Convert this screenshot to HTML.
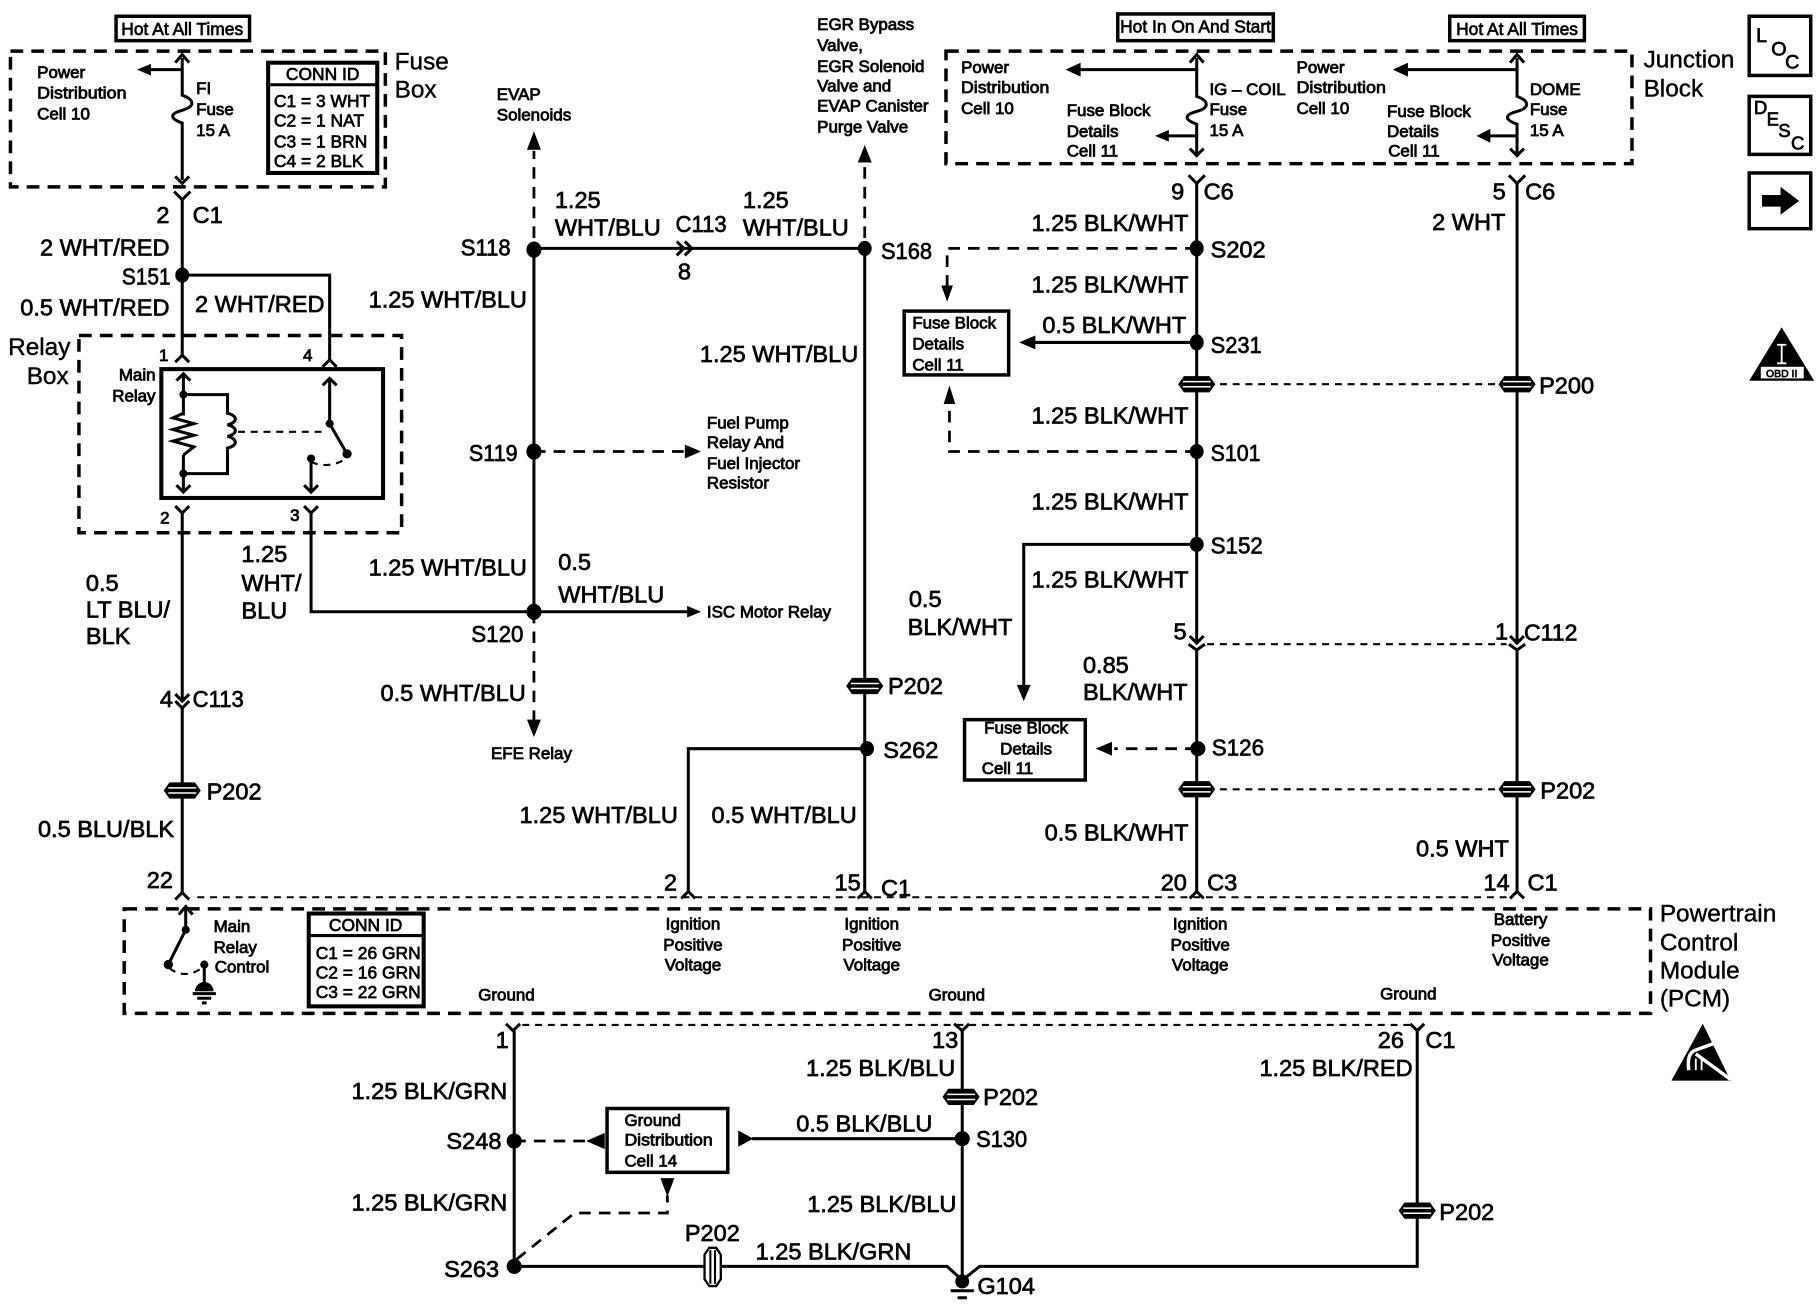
<!DOCTYPE html>
<html><head><meta charset="utf-8"><style>
html,body{margin:0;padding:0;background:#fff}
svg{display:block}
text{font-family:"Liberation Sans",sans-serif;fill:#000;stroke:#000}
.L text{font-size:20.3px;stroke-width:.6px}
.T text{font-size:21px;stroke-width:.35px}
.S text{font-size:14.6px;stroke-width:.7px}
.H text{font-size:15px;stroke-width:.6px}
.r{text-anchor:end}.c{text-anchor:middle}
.w{fill:none;stroke:#000;stroke-width:2.6}
.b{fill:none;stroke:#000;stroke-width:3}
.d{fill:none;stroke:#000;stroke-width:3;stroke-dasharray:11 7}
.e{fill:none;stroke:#000;stroke-width:2.4;stroke-dasharray:10 7}
.t{fill:none;stroke:#000;stroke-width:1.8;stroke-dasharray:6 5}
.k{fill:#000;stroke:none}
</style></head><body>
<svg xmlns="http://www.w3.org/2000/svg" width="1820" height="1312" viewBox="0 0 1568 1130.3">
<defs>
<g id="p"><path d="M-16 0L-11 -7H11L16 0L11 7H-11Z" fill="#000"/><path d="M-12 -2.2H12M-12 2.2H12" stroke="#fff" stroke-width="1.3"/></g>
</defs>

<!-- boxes -->
<rect class="b" x="100" y="14" width="115" height="21"/>
<rect class="b" x="963" y="12" width="134" height="23"/>
<rect class="b" x="1249" y="14" width="116" height="21"/>
<rect class="d" x="9" y="44" width="323" height="117"/>
<rect class="d" x="815" y="44" width="591" height="97"/>
<rect class="d" x="68" y="289" width="278" height="170"/>
<rect class="d" x="107" y="783" width="1315" height="90"/>
<rect x="139" y="318" width="191" height="111" fill="none" stroke="#000" stroke-width="3.5"/>
<rect x="231" y="54" width="94" height="95" fill="none" stroke="#000" stroke-width="3.5"/><path class="w" d="M231 73H325"/>
<rect x="266" y="787" width="99" height="80" fill="none" stroke="#000" stroke-width="3.5"/><path class="w" d="M266 806H365"/>
<rect class="b" x="779" y="268" width="90" height="55"/>
<rect class="b" x="831" y="620" width="104" height="52"/>
<rect class="b" x="523" y="955" width="104" height="55"/>
<rect class="b" x="1507" y="14" width="53" height="51"/>
<rect class="b" x="1507" y="83" width="53" height="50"/>
<rect class="b" x="1507" y="149" width="53" height="48"/>

<!-- main wires -->
<path class="w" d="M157 172V237M157 237H284V310M157 237V306M157 442V604M157 610V769M268 442V527H460M460 215V527M460 214H745M745 214V768M745 645H593V768M1031 158V554M1031 560V768M1031 295H886M1031 469H882V592M1307 158V554M1307 560V768"/>
<path class="w" d="M443 888V1091H816L829 1103L844 1091H1221V888M829 888V1103M829 981H648"/>
<path class="e" d="M460 205V130M745 205V130M460 389H592M460 527V625M1031 214H816V250M1031 389H818V350M1031 645H960M443 983H510M445 1085L495 1045H575V1030"/>
<path class="w" d="M460 527H594"/>
<path class="t" d="M1040 555H1298M1040 331H1292M1040 680H1292M170 773H1300M450 883H1215"/>

<!-- fuse-box internals -->
<path class="w" d="M157 50V82C168 86 168 92 157 95C146 98 146 102 157 106V155M157 60H126M1031 50V83C1042 87 1042 93 1031 96C1020 99 1020 103 1031 107V133M1031 60H930M1031 117H1005M1307 50V83C1318 87 1318 93 1307 96C1296 99 1296 103 1307 107V133M1307 60H1212M1307 117H1282"/>
<path class="w" d="M151 54L157 47L163 54M151 152L157 158L163 152M1025 54L1031 47L1037 54M1025 128L1031 134L1037 128M1301 54L1307 47L1313 54M1301 128L1307 134L1313 128"/>
<path class="k" d="M118 60L130 55V65ZM918 60L931 54V66ZM995 117L1007 112V122ZM1200 60L1213 54V66ZM1272 117L1284 111V123Z"/>

<!-- forks -->
<path class="w" d="M150 165L157 172L164 165M1024 151L1031 158L1038 151M1300 151L1307 158L1314 151M151 312L157 306L163 312M278 316L284 310L290 316M151 436L157 442L163 436M262 436L268 442L274 436M151 598L157 604L163 598M151 604L157 610L163 604M151 775L157 769L163 775M587 774L593 768L599 774M739 774L745 768L751 774M1025 774L1031 768L1037 774M1301 774L1307 768L1313 774M436 882L442 888L448 882M822 882L829 888L835 882M1215 882L1221 888L1227 882M1025 548L1031 554L1037 548M1024 555L1031 560L1038 555M1301 548L1307 554L1313 548M1300 555L1307 560L1314 555M583 208L589 214L583 220M590 208L596 214L590 220"/>

<!-- splice dots -->
<g class="k">
<ellipse cx="157" cy="237" rx="6" ry="6.5"/><ellipse cx="460" cy="215" rx="6.5" ry="7"/><ellipse cx="460" cy="389" rx="6.5" ry="7"/><ellipse cx="460" cy="527" rx="6.5" ry="7"/>
<ellipse cx="745" cy="214" rx="6" ry="6.5"/><ellipse cx="747" cy="645" rx="6" ry="6.5"/><ellipse cx="1031" cy="214" rx="6" ry="7"/><ellipse cx="1031" cy="295" rx="6" ry="7"/><ellipse cx="1031" cy="389" rx="6" ry="6.5"/><ellipse cx="1031" cy="469" rx="6" ry="6.5"/><ellipse cx="1032" cy="645" rx="6.5" ry="6.5"/>
<ellipse cx="443" cy="983" rx="6.5" ry="6.5"/><ellipse cx="443" cy="1091" rx="6.5" ry="6.5"/><ellipse cx="829" cy="981" rx="6.5" ry="6.5"/>
</g>

<!-- arrowheads -->
<path class="k" d="M460 113L466 129H454ZM745 125L751 140H739ZM604 389L590 383V395ZM604 527L592 522V532ZM460 635L454 620H466ZM816 260L811 246H821ZM818 332L813 348H823ZM878 295L892 289V301ZM882 604L876 590H888ZM944 645L958 639V651ZM505 983L521 976V990ZM636 974V988L649 981ZM575 1031L569 1015H581Z"/>

<!-- P connectors -->
<use href="#p" x="157" y="681"/><use href="#p" x="745" y="591"/><use href="#p" x="1031" y="331"/><use href="#p" x="1307" y="331"/><use href="#p" x="1031" y="680"/><use href="#p" x="1307" y="680"/><use href="#p" x="828" y="945"/><use href="#p" x="1221" y="1043"/>
<path d="M607 1081L611 1075H617L621 1081V1102L617 1108H611L607 1102Z" fill="#fff" stroke="#000" stroke-width="2"/><path d="M612 1077V1106M616 1077V1106" stroke="#000" stroke-width="1.8"/>

<!-- relay internals -->
<path class="w" d="M158 322V424M158 340H196V356C205 358 205 364 196 366C205 368 205 374 196 376C205 378 205 384 196 386V408H158M284 326V365L299 391M268 395V424"/>
<path fill="#fff" d="M149 358h18v34h-18z"/>
<path class="w" d="M158 356L149 360L167 365L149 370L167 375L149 380L167 385L158 392"/>
<path class="w" d="M152 328L158 322L164 328M152 418L158 424L164 418M278 332L284 326L290 332M262 418L268 424L274 418"/>
<path class="t" d="M205 372H282M268 398C276 402 290 402 299 394"/>
<g class="k"><circle cx="158" cy="340" r="3.5"/><circle cx="158" cy="408" r="3.5"/><circle cx="284" cy="365" r="3.5"/><circle cx="299" cy="391" r="4"/><circle cx="268" cy="395" r="3.5"/></g>

<!-- PCM switch -->
<path class="w" d="M160 782V801L145 831M176 831V850M154 788L160 781L166 788"/>
<path class="t" d="M146 834C155 842 168 840 176 832"/>
<g class="k"><circle cx="160" cy="801" r="3.5"/><circle cx="145" cy="831" r="4"/><circle cx="176" cy="831" r="3.5"/><path d="M168 854A8 8 0 0 1 184 854Z"/></g>
<path class="w" d="M166 856H186M170 860H182M174 864H178"/>

<!-- G104 -->
<circle class="k" cx="829" cy="1104" r="6"/>
<path class="w" d="M819 1112H839M825 1118H833"/>

<!-- right icons -->
<path class="k" d="M1518 168H1534V161L1550 173L1534 185V178H1518Z"/>
<path class="k" d="M1535 282L1507 328H1563Z"/><rect x="1517" y="316" width="37" height="10" fill="#fff"/>
<path d="M1531 297H1539M1531 313H1539M1535 297V313" stroke="#fff" stroke-width="1.6" fill="none"/>
<path class="k" d="M1467 882L1440 931H1491Z"/>
<path d="M1479 898L1460 905Q1453 908 1455 922M1461 908L1472 916L1491 930" stroke="#fff" stroke-width="3" fill="none"/>
<path d="M1461 912V922M1466 913V922" stroke="#fff" stroke-width="1.6" fill="none"/>

<!-- labels -->
<g class="T">
<text x="340" y="60">Fuse</text><text x="340" y="84">Box</text>
<text x="7" y="306">Relay</text><text x="23" y="331">Box</text>
<text x="1416" y="58">Junction</text><text x="1416" y="83">Block</text>
<text x="1430" y="794">Powertrain</text><text x="1430" y="819">Control</text><text x="1430" y="843">Module</text><text x="1430" y="867">(PCM)</text>
</g>
<g class="L">
<text class="r" x="146" y="192">2</text><text x="166" y="192">C1</text>
<text class="r" x="146" y="220">2 WHT/RED</text><text class="r" x="147" y="245" textLength="42" lengthAdjust="spacingAndGlyphs">S151</text><text class="r" x="146" y="272">0.5 WHT/RED</text><text x="168" y="269">2 WHT/RED</text>
<text x="208" y="484">1.25</text><text x="208" y="509">WHT/</text><text x="208" y="533">BLU</text>
<text x="74" y="509">0.5</text><text x="74" y="532">LT BLU/</text><text x="74" y="555">BLK</text>
<text class="r" x="149" y="609">4</text><text x="166" y="609" textLength="44" lengthAdjust="spacingAndGlyphs">C113</text>
<text x="178" y="689">P202</text><text class="r" x="150" y="721">0.5 BLU/BLK</text><text class="r" x="149" y="765">22</text>
<text class="r" x="440" y="220" textLength="43" lengthAdjust="spacingAndGlyphs">S118</text><text class="r" x="446" y="397" textLength="42" lengthAdjust="spacingAndGlyphs">S119</text><text x="406" y="553" textLength="45" lengthAdjust="spacingAndGlyphs">S120</text>
<text class="r" x="454" y="265">1.25 WHT/BLU</text><text class="r" x="454" y="496">1.25 WHT/BLU</text><text class="r" x="453" y="604">0.5 WHT/BLU</text>
<text x="478" y="179">1.25</text><text x="478" y="203">WHT/BLU</text><text x="582" y="200" textLength="44" lengthAdjust="spacingAndGlyphs">C113</text><text x="584" y="241">8</text>
<text x="640" y="179">1.25</text><text x="640" y="203">WHT/BLU</text><text x="759" y="223" textLength="44" lengthAdjust="spacingAndGlyphs">S168</text>
<text x="603" y="312">1.25 WHT/BLU</text><text x="481" y="491">0.5</text><text x="481" y="519">WHT/BLU</text>
<text x="765" y="598">P202</text><text x="761" y="653">S262</text>
<text class="r" x="584" y="709">1.25 WHT/BLU</text><text x="613" y="709">0.5 WHT/BLU</text>
<text x="572" y="767">2</text><text x="719" y="767">15</text><text x="759" y="772">C1</text>
<text x="1009" y="172">9</text><text x="1037" y="172">C6</text><text x="1286" y="172">5</text><text x="1314" y="172">C6</text>
<text class="r" x="1024" y="199">1.25 BLK/WHT</text><text x="1043" y="222">S202</text><text class="r" x="1024" y="252">1.25 BLK/WHT</text>
<text class="r" x="1022" y="287">0.5 BLK/WHT</text><text x="1043" y="304" textLength="44" lengthAdjust="spacingAndGlyphs">S231</text><text x="1326" y="339">P200</text>
<text class="r" x="1024" y="365">1.25 BLK/WHT</text><text x="1043" y="397" textLength="43" lengthAdjust="spacingAndGlyphs">S101</text><text class="r" x="1024" y="439">1.25 BLK/WHT</text>
<text x="1043" y="477" textLength="45" lengthAdjust="spacingAndGlyphs">S152</text><text class="r" x="1024" y="506">1.25 BLK/WHT</text><text x="783" y="523">0.5</text><text x="782" y="547">BLK/WHT</text>
<text x="1011" y="551">5</text><text x="1288" y="551">1</text><text x="1313" y="552" textLength="46" lengthAdjust="spacingAndGlyphs">C112</text>
<text x="933" y="580">0.85</text><text x="933" y="603">BLK/WHT</text><text x="1044" y="651" textLength="45" lengthAdjust="spacingAndGlyphs">S126</text><text x="1327" y="688">P202</text>
<text class="r" x="1024" y="724">0.5 BLK/WHT</text><text x="1000" y="767">20</text><text x="1040" y="767">C3</text>
<text class="r" x="1297" y="198">2 WHT</text><text class="r" x="1300" y="738">0.5 WHT</text><text x="1278" y="767">14</text><text x="1316" y="767">C1</text>
<text x="427" y="903">1</text><text class="r" x="437" y="947">1.25 BLK/GRN</text><text class="r" x="432" y="990">S248</text><text class="r" x="437" y="1043">1.25 BLK/GRN</text><text class="r" x="430" y="1100">S263</text>
<text x="590" y="1069">P202</text><text x="651" y="1085">1.25 BLK/GRN</text><text x="842" y="1115">G104</text>
<text x="803" y="903">13</text><text class="r" x="823" y="927">1.25 BLK/BLU</text><text x="847" y="952">P202</text><text x="841" y="988" textLength="44" lengthAdjust="spacingAndGlyphs">S130</text><text x="686" y="975">0.5 BLK/BLU</text><text class="r" x="824" y="1044">1.25 BLK/BLU</text>
<text x="1187" y="903">26</text><text x="1228" y="903">C1</text><text class="r" x="1217" y="927">1.25 BLK/RED</text><text x="1240" y="1051">P202</text>
</g>
<g class="H">
<text class="c" x="157" y="30">Hot At All Times</text><text class="c" x="1030" y="28">Hot In On And Start</text><text class="c" x="1307" y="30">Hot At All Times</text>
<text class="c" x="278" y="69">CONN ID</text><text x="236" y="92">C1 = 3 WHT</text><text x="236" y="109">C2 = 1 NAT</text><text x="236" y="127">C3 = 1 BRN</text><text x="236" y="144">C4 = 2 BLK</text>
<text class="c" x="315" y="802">CONN ID</text><text x="272" y="826">C1 = 26 GRN</text><text x="272" y="843">C2 = 16 GRN</text><text x="272" y="860">C3 = 22 GRN</text>
<text x="1513" y="36" style="font-size:17px">L</text><text x="1526" y="48" style="font-size:17px">O</text><text x="1538" y="59" style="font-size:17px">C</text>
<text x="1511" y="98" style="font-size:16px">D</text><text x="1522" y="108" style="font-size:16px">E</text><text x="1532" y="118" style="font-size:16px">S</text><text x="1543" y="129" style="font-size:16px">C</text>
<text class="c" x="1535" y="325" style="font-size:9px">OBD II</text>
</g>
<g class="S">
<text x="32" y="67">Power</text><text x="32" y="85" textLength="77" lengthAdjust="spacingAndGlyphs">Distribution</text><text x="32" y="103">Cell 10</text>
<text x="169" y="81">FI</text><text x="169" y="99">Fuse</text><text x="169" y="117">15 A</text>
<text x="428" y="86">EVAP</text><text x="428" y="104">Solenoids</text>
<text x="704" y="26">EGR Bypass</text><text x="704" y="44">Valve,</text><text x="704" y="62">EGR Solenoid</text><text x="704" y="79">Valve and</text><text x="704" y="96">EVAP Canister</text><text x="704" y="114">Purge Valve</text>
<text x="828" y="63">Power</text><text x="828" y="80" textLength="76" lengthAdjust="spacingAndGlyphs">Distribution</text><text x="828" y="98">Cell 10</text>
<text x="919" y="100">Fuse Block</text><text x="919" y="118">Details</text><text x="919" y="135">Cell 11</text>
<text x="1042" y="82">IG – COIL</text><text x="1042" y="99">Fuse</text><text x="1042" y="117">15 A</text>
<text x="1117" y="63">Power</text><text x="1117" y="80" textLength="77" lengthAdjust="spacingAndGlyphs">Distribution</text><text x="1117" y="98">Cell 10</text>
<text x="1195" y="101">Fuse Block</text><text x="1195" y="118">Details</text><text x="1196" y="135">Cell 11</text>
<text x="1318" y="82">DOME</text><text x="1318" y="99">Fuse</text><text x="1318" y="117">15 A</text>
<text class="r" x="134" y="328">Main</text><text class="r" x="134" y="346">Relay</text>
<text x="137" y="311">1</text><text x="261" y="311">4</text><text x="138" y="451">2</text><text x="250" y="449">3</text>
<text x="609" y="369">Fuel Pump</text><text x="609" y="386">Relay And</text><text x="609" y="404">Fuel Injector</text><text x="609" y="421">Resistor</text>
<text x="609" y="532">ISC Motor Relay</text><text x="423" y="654">EFE Relay</text>
<text x="786" y="283">Fuse Block</text><text x="786" y="301">Details</text><text x="786" y="319">Cell 11</text>
<text class="c" x="884" y="632">Fuse Block</text><text class="c" x="884" y="650">Details</text><text class="c" x="868" y="667">Cell 11</text>
<text class="c" x="597" y="801">Ignition</text><text class="c" x="597" y="819">Positive</text><text class="c" x="597" y="836">Voltage</text>
<text class="c" x="751" y="801">Ignition</text><text class="c" x="751" y="819">Positive</text><text class="c" x="751" y="836">Voltage</text>
<text class="c" x="1034" y="801">Ignition</text><text class="c" x="1034" y="819">Positive</text><text class="c" x="1034" y="836">Voltage</text>
<text class="c" x="1310" y="797">Battery</text><text class="c" x="1310" y="815">Positive</text><text class="c" x="1310" y="832">Voltage</text>
<text x="184" y="803">Main</text><text x="184" y="821">Relay</text><text x="185" y="838">Control</text>
<text x="412" y="862">Ground</text><text x="800" y="862">Ground</text><text x="1189" y="861">Ground</text>
<text x="538" y="970">Ground</text><text x="538" y="987" textLength="76" lengthAdjust="spacingAndGlyphs">Distribution</text><text x="538" y="1005">Cell 14</text>
</g>
</svg>
</body></html>
